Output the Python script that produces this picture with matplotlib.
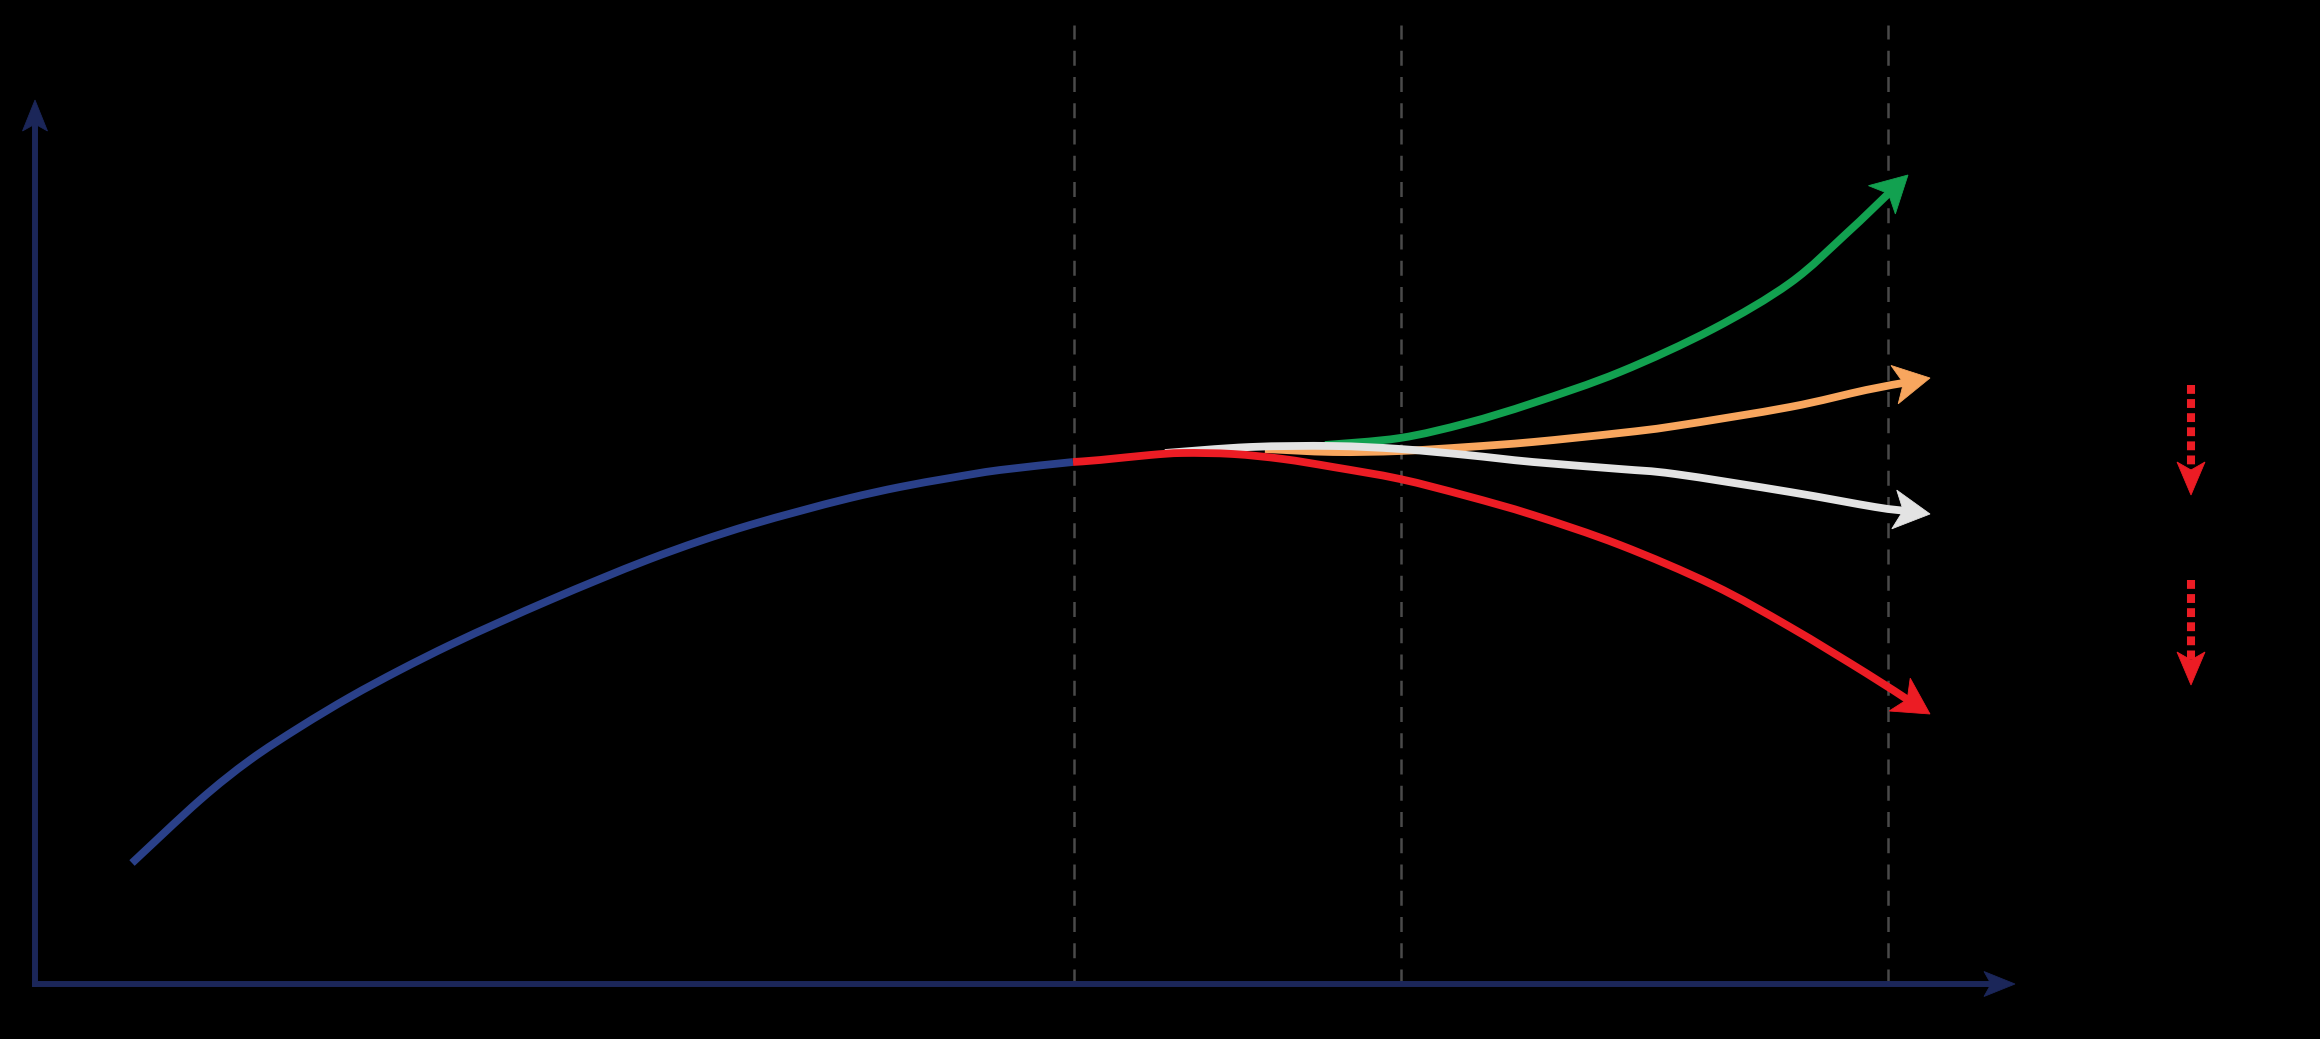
import matplotlib
matplotlib.use("Agg")
import numpy as np
import matplotlib.pyplot as plt
from matplotlib.path import Path
from matplotlib.patches import PathPatch, Polygon

# ---- data (conceptual scenario chart) ----
blue_x = [0.97, 1.65, 2.15, 2.65, 3.15, 3.65, 4.15, 4.65, 5.15, 5.65,
          6.15, 6.65, 7.15, 7.65, 8.15, 8.65, 9.15, 9.65, 10.38]
blue_y = [1.21, 1.84, 2.24, 2.57, 2.87, 3.14, 3.39, 3.62, 3.84, 4.05,
          4.25, 4.43, 4.59, 4.73, 4.86, 4.97, 5.06, 5.14, 5.22]

red_x = [10.38, 10.65, 11.15, 11.48, 11.98, 12.48, 12.98, 13.65, 14.32, 14.98,
         15.85, 16.78, 17.55, 18.31, 18.95]
red_y = [5.22, 5.24, 5.29, 5.31, 5.30, 5.25, 5.17, 5.05, 4.88, 4.69,
         4.39, 3.99, 3.57, 3.11, 2.70]

gray_x = [11.30, 12.15, 12.98, 13.65, 14.32, 14.98, 15.85, 16.40, 17.55, 18.40, 18.95]
gray_y = [5.31, 5.37, 5.38, 5.35, 5.29, 5.22, 5.15, 5.10, 4.92, 4.77, 4.70]

orange_x = [12.30, 12.98, 13.65, 14.32, 14.98, 15.85, 16.40, 17.55, 18.31, 18.95]
orange_y = [5.35, 5.32, 5.33, 5.37, 5.42, 5.51, 5.58, 5.77, 5.94, 6.06]

green_x = [12.90, 13.65, 14.32, 14.98, 15.85, 16.78, 17.55, 18.12, 18.73]
green_y = [5.39, 5.46, 5.61, 5.81, 6.12, 6.55, 7.01, 7.51, 8.09]

phase_x = [10.39, 13.66, 18.53]
phase_top = 9.59

axis_x_end = 19.80
axis_y_end = 8.84

drop_x = 21.56
drop_start = [5.99, 4.04]
drop_end = [4.89, 2.99]

# ---- figure ----
BG = "black"
fig = plt.figure(figsize=(23.2, 10.39), dpi=100, facecolor=BG)
ax = fig.add_axes([0, 0, 1, 1])
ax.set_facecolor(BG)
ax.set_xlim(-0.35, 22.85)
ax.set_ylim(-0.55, 9.84)
ax.set_aspect("equal")
ax.axis("off")

NAVY = "#1b2659"
BLUE = "#2a4089"
RED = "#ec1c24"
GREEN = "#12a150"
ORANGE = "#f8a65e"
GRAY = "#e3e3e3"
DASH = "#4a4a4a"


def head(tip, frm, color, L, W, notch, z):
    """Swept-back arrow head pointing from `frm` toward `tip`; returns base point."""
    t = np.asarray(tip, float)
    u = t - np.asarray(frm, float)
    u /= np.hypot(*u)
    n = np.array([-u[1], u[0]])
    verts = [t, t - L * u + W * n, t - (L - notch) * u, t - L * u - W * n]
    ax.add_patch(Polygon(verts, closed=True, facecolor=color, edgecolor=color,
                         lw=0.6, joinstyle="miter", zorder=z))
    return t - (L - notch - 0.02) * u


def smooth(xs, ys, color, lw, z):
    """Draw a smooth path through the points (Catmull-Rom as cubic Beziers)."""
    P = np.column_stack([xs, ys]).astype(float)
    n = len(P)
    verts = [tuple(P[0])]
    codes = [Path.MOVETO]
    for i in range(n - 1):
        p0 = P[i - 1] if i > 0 else P[i]
        p1, p2 = P[i], P[i + 1]
        p3 = P[i + 2] if i + 2 < n else P[i + 1]
        c1 = p1 + (p2 - p0) / 6.0
        c2 = p2 - (p3 - p1) / 6.0
        verts += [tuple(c1), tuple(c2), tuple(p2)]
        codes += [Path.CURVE4] * 3
    ax.add_patch(PathPatch(Path(verts, codes), fill=False, edgecolor=color, lw=lw,
                           capstyle="butt", joinstyle="round", zorder=z))


# phase separators
for px in phase_x:
    ax.plot([px, px], [0, phase_top], color=DASH, lw=1.8,
            linestyle=(0, (6, 4.5)), zorder=1)

# axes with arrows
AX_LW = 4.3
bx = head((axis_x_end, 0), (0, 0), NAVY, 0.31, 0.125, 0.07, 2)
ax.plot([-0.03, bx[0]], [0, 0], color=NAVY, lw=AX_LW, solid_capstyle="butt", zorder=2)
by = head((0, axis_y_end), (0, 0), NAVY, 0.31, 0.125, 0.07, 2)
ax.plot([0, 0], [-0.03, by[1]], color=NAVY, lw=AX_LW, solid_capstyle="butt", zorder=2)

LW = 5.6


def curve(xs, ys, color, z, arrow=True):
    if not arrow:
        smooth(xs, ys, color, LW, z)
        return
    base = head((xs[-1], ys[-1]), (xs[-2], ys[-2]), color, 0.36, 0.195, 0.09, z)
    smooth(list(xs[:-1]) + [base[0]], list(ys[:-1]) + [base[1]], color, LW, z)


curve(blue_x, blue_y, BLUE, 3.0, arrow=False)
curve(green_x, green_y, GREEN, 3.5)
curve(orange_x, orange_y, ORANGE, 3.6)
curve(gray_x, gray_y, GRAY, 3.7)
curve(red_x, red_y, RED, 3.8)

# red dotted downward arrows
for ys, ye in zip(drop_start, drop_end):
    b = head((drop_x, ye), (drop_x, ys), RED, 0.33, 0.14, 0.08, 8)
    ax.plot([drop_x, drop_x], [ys, b[1] + 0.02], color=RED, lw=5.8,
            linestyle=(0, (1.1, 0.65)), dash_capstyle="butt", zorder=8)

fig.savefig("out.png", dpi=100, facecolor=BG)
